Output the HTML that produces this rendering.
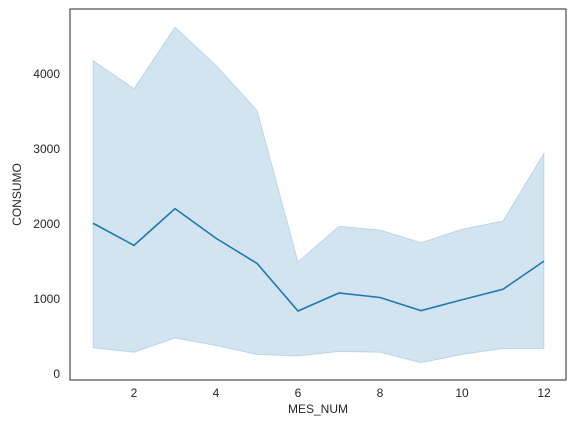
<!DOCTYPE html>
<html><head><meta charset="utf-8"><style>
body{margin:0;background:#fff;}
svg text{font-family:"Liberation Sans","DejaVu Sans",sans-serif;font-size:12px;fill:#262626;}
</style></head><body>
<svg id="chart" width="576" height="433" xmlns="http://www.w3.org/2000/svg"></svg>
<script>
const months=[1,2,3,4,5,6,7,8,9,10,11,12];
const meanValues=[2010,1715,2205,1810,1475,840,1080,1020,845,990,1130,1505];
const upperValues=[4180,3805,4625,4115,3515,1495,1970,1920,1750,1930,2040,2945];
const lowerValues=[350,290,480,380,260,240,300,290,150,260,340,340];
const xTicks=[2,4,6,8,10,12];
const yTicks=[0,1000,2000,3000,4000];
const NS="http://www.w3.org/2000/svg";
const svg=document.getElementById('chart');
const L=70,R=566,T=9,B=380;
const xs=v=>93+(v-1)*41;
const ys=v=>374-v*0.075;
function mk(t,a){const e=document.createElementNS(NS,t);for(const k in a)e.setAttribute(k,a[k]);svg.appendChild(e);return e;}
let pts=months.map((m,i)=>xs(m)+','+ys(upperValues[i]));
for(let i=months.length-1;i>=0;i--)pts.push(xs(months[i])+','+ys(lowerValues[i]));
const band=mk('polygon',{points:pts.join(' '),fill:'#1f77b4','fill-opacity':0.2,stroke:'#1f77b4','stroke-opacity':0.2,'stroke-width':1});


const line=mk('polyline',{points:months.map((m,i)=>xs(m)+','+ys(meanValues[i])).join(' '),fill:'none',stroke:'#1f77b4','stroke-width':1.6});


const frame=mk('rect',{x:L,y:T,width:R-L,height:B-T,fill:'none',stroke:'#262626','stroke-width':1});


xTicks.forEach(v=>{const t=mk('text',{x:xs(v),y:B+17,'text-anchor':'middle'});t.textContent=v;

});
yTicks.forEach(v=>{const t=mk('text',{x:L-10,y:ys(v)+4,'text-anchor':'end'});t.textContent=v;

});
const xt=mk('text',{x:(L+R)/2,y:413,'text-anchor':'middle'});xt.textContent='MES_NUM';


const yt=mk('text',{x:0,y:0,'text-anchor':'middle',transform:'translate(21,'+((T+B)/2)+') rotate(-90)'});yt.textContent='CONSUMO';


</script>
</body></html>
